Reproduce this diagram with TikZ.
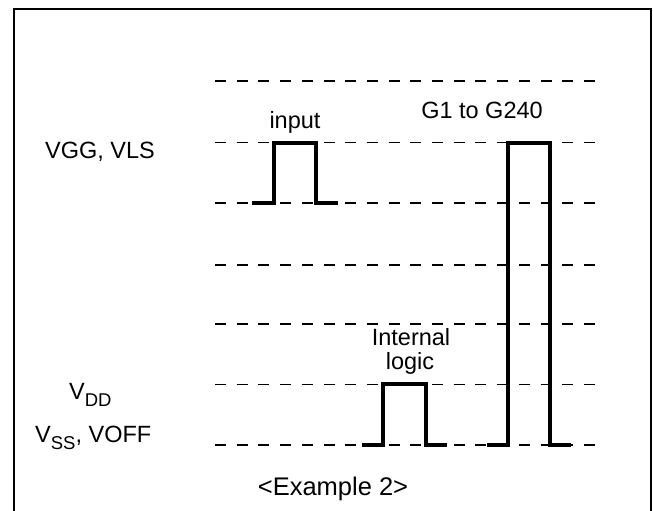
\documentclass[tikz,border=0pt]{standalone}
\usepackage{fontspec}
\setmainfont{Liberation Sans}
\begin{document}
\begin{tikzpicture}[x=1pt,y=-1pt,
  lvl/.style={line width=1.9pt, dash pattern=on 11pt off 10.7pt},
  pulse/.style={line width=3.8pt, line join=miter},
  lbl/.style={inner sep=0pt, font=\fontsize{23.5}{28}\selectfont}]
\useasboundingbox (0,0) rectangle (653,511);
\draw[line width=2.8pt] (14,530) -- (14,9) -- (651,9) -- (651,530);
% levels
\foreach \n/\y in {l1/81,l2/142.5,l3/203,l4/265,l5/324,l6/384.5,l7/445}{
  \coordinate (\n a) at (215,\y);
  \coordinate (\n b) at (605,\y);
  \draw[lvl] (\n a) -- (\n b);
}
% input pulse
\coordinate (i0) at (252,203); \coordinate (i1) at (274,203); \coordinate (i2) at (274,143);
\coordinate (i3) at (316,143); \coordinate (i4) at (316,203); \coordinate (i5) at (338,203);
\draw[pulse] (i0) -- (i1) -- (i2) -- (i3) -- (i4) -- (i5);
% internal logic pulse
\coordinate (n0) at (362,445); \coordinate (n1) at (383,445); \coordinate (n2) at (383,384);
\coordinate (n3) at (426,384); \coordinate (n4) at (426,445); \coordinate (n5) at (447,445);
\draw[pulse] (n0) -- (n1) -- (n2) -- (n3) -- (n4) -- (n5);
% G pulse
\coordinate (g0) at (487,445); \coordinate (g1) at (508,445); \coordinate (g2) at (508,143);
\coordinate (g3) at (550,143); \coordinate (g4) at (550,445); \coordinate (g5) at (571,445);
\draw[pulse] (g0) -- (g1) -- (g2) -- (g3) -- (g4) -- (g5);
% labels
\node[lbl, anchor=base] (tin) at (295,128) {input};
\node[lbl, anchor=base] (tg) at (482,118) {G1 to G240};
\node[lbl, anchor=base west] (tvgg) at (45,158) {VGG, VLS};
\node[lbl, anchor=base west] (tvdd) at (69,399) {V\raisebox{-0.3em}{\fontsize{18.5}{19}\selectfont DD}};
\node[lbl, anchor=base west] (tvss) at (35,442) {V\raisebox{-0.3em}{\fontsize{18.5}{19}\selectfont SS}, VOFF};
\node[lbl, anchor=base] (til1) at (411,345) {Internal};
\node[lbl, anchor=base] (til2) at (410,369) {logic};
\node[lbl, anchor=base, font=\fontsize{25.5}{30}\selectfont] (tex) at (333,495) {<Example 2>};
\end{tikzpicture}
\end{document}
